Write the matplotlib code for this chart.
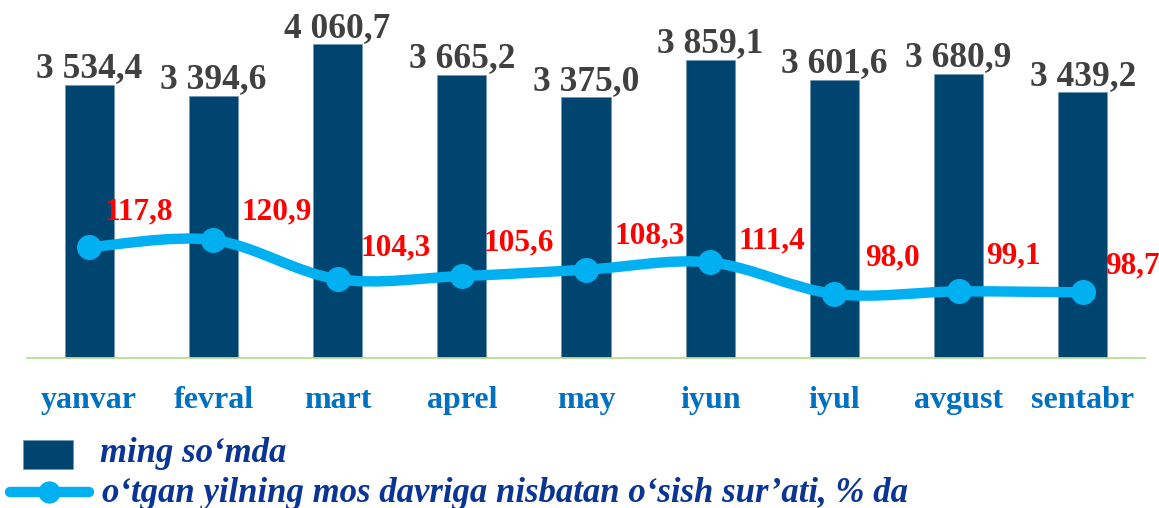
import matplotlib
matplotlib.use("Agg")
import matplotlib.pyplot as plt
from matplotlib.path import Path
from matplotlib.patches import PathPatch, Rectangle
from matplotlib.lines import Line2D
import numpy as np

months = ["yanvar", "fevral", "mart", "aprel", "may", "iyun", "iyul", "avgust", "sentabr"]
wages = [3534.4, 3394.6, 4060.7, 3665.2, 3375.0, 3859.1, 3601.6, 3680.9, 3439.2]
growth = [117.8, 120.9, 104.3, 105.6, 108.3, 111.4, 98.0, 99.1, 98.7]
bar_label = "ming so\u2018mda"
line_label = "o\u2018tgan yilning mos davriga nisbatan o\u2018sish sur\u2019ati, % da"

# label placement offsets for the growth labels (pixels, right / up)
label_dx = [50, 63, 58, 57, 64, 62, 58, 55, 50]
label_dy = [35, 28, 31, 33, 34, 21, 36, 35, 26]

def fmt(v):
    s = f"{v:,.1f}"
    return s.replace(",", " ").replace(".", ",")

W, H = 1159, 508
fig = plt.figure(figsize=(W / 100, H / 100), dpi=100)
plt.rcParams['font.family'] = ['Liberation Serif', 'DejaVu Serif']
PX = 72 / 100  # pixels -> points

ax_l, ax_r, ax_b, ax_t = 27, 1145, 358, 10
ax = fig.add_axes([ax_l / W, 1 - ax_b / H, (ax_r - ax_l) / W, (ax_b - ax_t) / H])
x = np.arange(len(months))
ax.bar(x, wages, width=0.395, color="#004570", edgecolor="#6f93b3", linewidth=0.4, zorder=2)
ax.set_xlim(-0.5, len(months) - 0.5)
ax.set_ylim(0, (ax_b - ax_t) / 0.07725)
for xi, v in zip(x, wages):
    ax.annotate(fmt(v), (xi, v), xytext=(0, 7.5 * PX), textcoords="offset points",
                ha="center", va="baseline", fontsize=25.5, fontweight="bold", color="#404040")

for s in ["top", "right", "left"]:
    ax.spines[s].set_visible(False)
ax.spines["bottom"].set_color("#b8df8f")
ax.spines["bottom"].set_linewidth(1.3)
ax.set_yticks([])
ax.set_xticks(x)
ax.set_xticklabels(months, fontsize=23, fontweight="bold", color="#0070c0")
ax.tick_params(axis="x", length=0, pad=20)

ax2 = ax.twinx()
lo = 98.0 - (ax_b - 294) / 2.36
ax2.set_ylim(lo, lo + (ax_b - ax_t) / 2.36)
ax2.set_yticks([])
for s in ax2.spines.values():
    s.set_visible(False)

# smoothed line (Catmull-Rom style Bezier, like spreadsheet smoothing)
pts = np.column_stack([x, growth]).astype(float)
verts = [tuple(pts[0])]
codes = [Path.MOVETO]
n = len(pts)
for i in range(n - 1):
    p0 = pts[i - 1] if i > 0 else pts[i]
    p1 = pts[i]
    p2 = pts[i + 1]
    p3 = pts[i + 2] if i + 2 < n else pts[i + 1]
    c1 = p1 + (p2 - p0) / 6.0
    c2 = p2 - (p3 - p1) / 6.0
    verts += [tuple(c1), tuple(c2), tuple(p2)]
    codes += [Path.CURVE4] * 3
path = Path(verts, codes)
ax2.add_patch(PathPatch(path, facecolor="none", edgecolor="#00b0f0", linewidth=7.5,
                        capstyle="round", joinstyle="round", zorder=3))
ax2.plot(x, growth, linestyle="none", marker="o", markersize=17, color="#00b0f0", zorder=4)
for xi, v, dx, dy in zip(x, growth, label_dx, label_dy):
    ax2.annotate(fmt(v), (xi, v), xytext=(dx * PX, dy * PX), textcoords="offset points",
                 ha="center", va="center", fontsize=22.5, fontweight="bold", color="#ff0000")

# legend drawn manually in pixel coordinates
def fx(px):
    return px / W

def fy(py):
    return 1 - py / H

fig.patches.append(Rectangle((fx(23), fy(469)), fx(73) - fx(23), fy(440) - fy(469),
                             transform=fig.transFigure, facecolor="#004570", edgecolor="#6f93b3",
                             linewidth=0.4))
fig.lines.append(Line2D([fx(10), fx(89)], [fy(492), fy(492)], transform=fig.transFigure,
                        color="#00b0f0", linewidth=7.5, solid_capstyle="round"))
fig.lines.append(Line2D([fx(49)], [fy(492)], transform=fig.transFigure, marker="o",
                        markersize=15, color="#00b0f0", linestyle="none"))
fig.text(fx(100), fy(462), bar_label, fontsize=25, fontweight="bold", fontstyle="italic",
         color="#0a3595", ha="left", va="baseline")
fig.text(fx(102), fy(502), line_label, fontsize=25, fontweight="bold", fontstyle="italic",
         color="#0a3595", ha="left", va="baseline")

fig.savefig("out.png", dpi=100)
